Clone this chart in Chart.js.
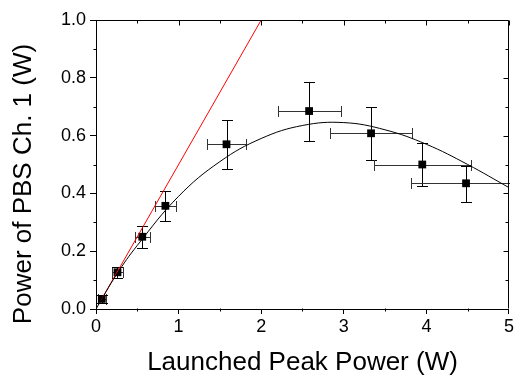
<!DOCTYPE html>
<html>
<head>
<meta charset="utf-8">
<script src="https://cdn.jsdelivr.net/npm/chart.js@4/dist/chart.umd.min.js"></script>
<style>
  body { margin: 0; background: #fff; }
</style>
</head>
<body>
<canvas id="pbsChart" width="516" height="379"></canvas>
<script>
// measured points
const px = [0.07, 0.26, 0.56, 0.84, 1.58, 2.58, 3.33, 3.95, 4.48];
const py = [0.035, 0.127, 0.25, 0.357, 0.57, 0.685, 0.608, 0.5, 0.435];
const xLo = [0.03, 0.19, 0.47, 0.71, 1.34, 2.2, 2.83, 3.37, 3.81];
const xHi = [0.12, 0.33, 0.65, 0.965, 1.82, 2.97, 3.83, 4.54, 5.2];
const yLo = [0.022, 0.108, 0.212, 0.305, 0.483, 0.581, 0.516, 0.427, 0.369];
const yHi = [0.048, 0.146, 0.288, 0.41, 0.654, 0.786, 0.698, 0.575, 0.496];

// black fit curve
const curveX = [0, 0.25, 0.5, 1, 1.5, 2, 2.5, 3, 3.5, 4, 4.5, 5];
const curveY = [0, 0.12, 0.22, 0.39, 0.51, 0.59, 0.635, 0.645, 0.62, 0.57, 0.5, 0.42];

// red linear line
const lineX = [0.06, 2.0];
const lineY = [0.03, 1.0];

const yTitle = "Power of PBS Ch. 1 (W)";
const xTitle = "Launched Peak Power (W)";

Chart.defaults.font.family = "'Liberation Sans', Arial, sans-serif";
Chart.defaults.color = "#000";

const xy = (xs, ys) => xs.map((x, i) => ({ x: x, y: ys[i] }));

// error bars, under the markers
const errorBars = {
  id: "errorBars",
  beforeDatasetsDraw(chart) {
    const { ctx, chartArea: a, scales: { x, y } } = chart;
    ctx.save();
    ctx.beginPath();
    ctx.rect(a.left, a.top - 1, a.right - a.left + 1, a.bottom - a.top + 2);
    ctx.clip();
    ctx.lineWidth = 1;
    const cap = 5.5;
    px.forEach((v, i) => {
      const cx = Math.round(x.getPixelForValue(v)) + 0.5;
      const cy = Math.round(y.getPixelForValue(py[i])) + 0.5;
      // horizontal
      const l = Math.round(x.getPixelForValue(xLo[i])) + 0.5;
      const r = Math.round(x.getPixelForValue(xHi[i])) + 0.5;
      ctx.strokeStyle = "#333";
      ctx.beginPath();
      ctx.moveTo(l, cy); ctx.lineTo(r, cy);
      ctx.moveTo(l, cy - cap); ctx.lineTo(l, cy + cap);
      ctx.moveTo(r, cy - cap); ctx.lineTo(r, cy + cap);
      ctx.stroke();
      // vertical
      const t = Math.round(y.getPixelForValue(yHi[i])) + 0.5;
      const b = Math.round(y.getPixelForValue(yLo[i])) + 0.5;
      ctx.strokeStyle = "#000";
      ctx.beginPath();
      ctx.moveTo(cx, t); ctx.lineTo(cx, b);
      ctx.moveTo(cx - cap, t); ctx.lineTo(cx + cap, t);
      ctx.moveTo(cx - cap, b); ctx.lineTo(cx + cap, b);
      ctx.stroke();
    });
    ctx.restore();
  }
};

// frame, minor ticks, inward ticks on top/right, y title
const frame = {
  id: "frame",
  afterDraw(chart) {
    const { ctx, chartArea: a, scales: { x, y } } = chart;
    ctx.save();
    ctx.strokeStyle = "#000";
    ctx.lineWidth = 1;
    const L = Math.round(a.left) + 0.5, R = Math.round(a.right) - 0.5;
    const T = Math.round(a.top) + 0.5, B = Math.round(a.bottom) - 0.5;
    ctx.beginPath();
    ctx.moveTo(L, T); ctx.lineTo(R, T); ctx.lineTo(R, B);
    for (let v = 0; v <= 5.001; v += 0.5) {
      const p = Math.round(x.getPixelForValue(v)) + 0.5;
      const major = Math.abs(v - Math.round(v)) < 1e-6;
      const len = major ? 5 : 3;
      ctx.moveTo(p, T); ctx.lineTo(p, T + len);
      if (!major) { ctx.moveTo(p, B); ctx.lineTo(p, B + len); }
    }
    for (let k = 0; k <= 10; k++) {
      const v = k / 10;
      const p = Math.round(y.getPixelForValue(v)) + 0.5;
      const major = k % 2 === 0;
      const len = major ? 5 : 3;
      ctx.moveTo(R, p); ctx.lineTo(R - len, p);
      if (!major) { ctx.moveTo(L, p); ctx.lineTo(L - len, p); }
    }
    ctx.stroke();

    ctx.fillStyle = "#000";
    ctx.font = "26px 'Liberation Sans', Arial, sans-serif";
    ctx.textAlign = "center";
    ctx.textBaseline = "middle";
    ctx.translate(23.5, 184);
    ctx.rotate(-Math.PI / 2);
    ctx.fillText(yTitle, 0, 0);
    ctx.restore();
  }
};

new Chart(document.getElementById("pbsChart").getContext("2d"), {
  type: "scatter",
  data: {
    datasets: [
      {
        label: "fit",
        type: "line",
        data: xy(curveX, curveY),
        borderColor: "#000",
        borderWidth: 1,
        pointRadius: 0,
        tension: 0.4,
        fill: false,
      },
      {
        label: "linear",
        type: "line",
        data: xy(lineX, lineY),
        borderColor: "#ff0000",
        borderWidth: 1,
        pointRadius: 0,
        fill: false,
      },
      {
        label: "data",
        data: xy(px, py),
        pointStyle: "rect",
        pointRadius: 5.5,
        backgroundColor: "#000",
        borderColor: "#000",
        borderWidth: 0,
      },
    ],
  },
  options: {
    responsive: false,
    animation: false,
    layout: { padding: { top: 20, right: 6, left: 0, bottom: 0 } },
    plugins: { legend: { display: false }, tooltip: { enabled: false } },
    scales: {
      x: {
        type: "linear",
        min: 0,
        max: 5,
        afterFit: (s) => { s.height = 70; },
        border: { display: true, color: "#000", width: 1 },
        grid: { display: true, drawOnChartArea: false, drawTicks: true, tickLength: 5, color: "#000" },
        ticks: { stepSize: 1, padding: 2, font: { size: 18 }, callback: (v) => String(v) },
        title: { display: true, text: xTitle, font: { size: 26 }, padding: { top: 0, bottom: 1 } },
      },
      y: {
        type: "linear",
        min: 0,
        max: 1,
        afterFit: (s) => { s.width = 96; },
        border: { display: true, color: "#000", width: 1 },
        grid: { display: true, drawOnChartArea: false, drawTicks: true, tickLength: 6, color: "#000" },
        ticks: { stepSize: 0.2, padding: 4, font: { size: 18 }, callback: (v) => v.toFixed(1) },
      },
    },
  },
  plugins: [errorBars, frame],
});
</script>
</body>
</html>
